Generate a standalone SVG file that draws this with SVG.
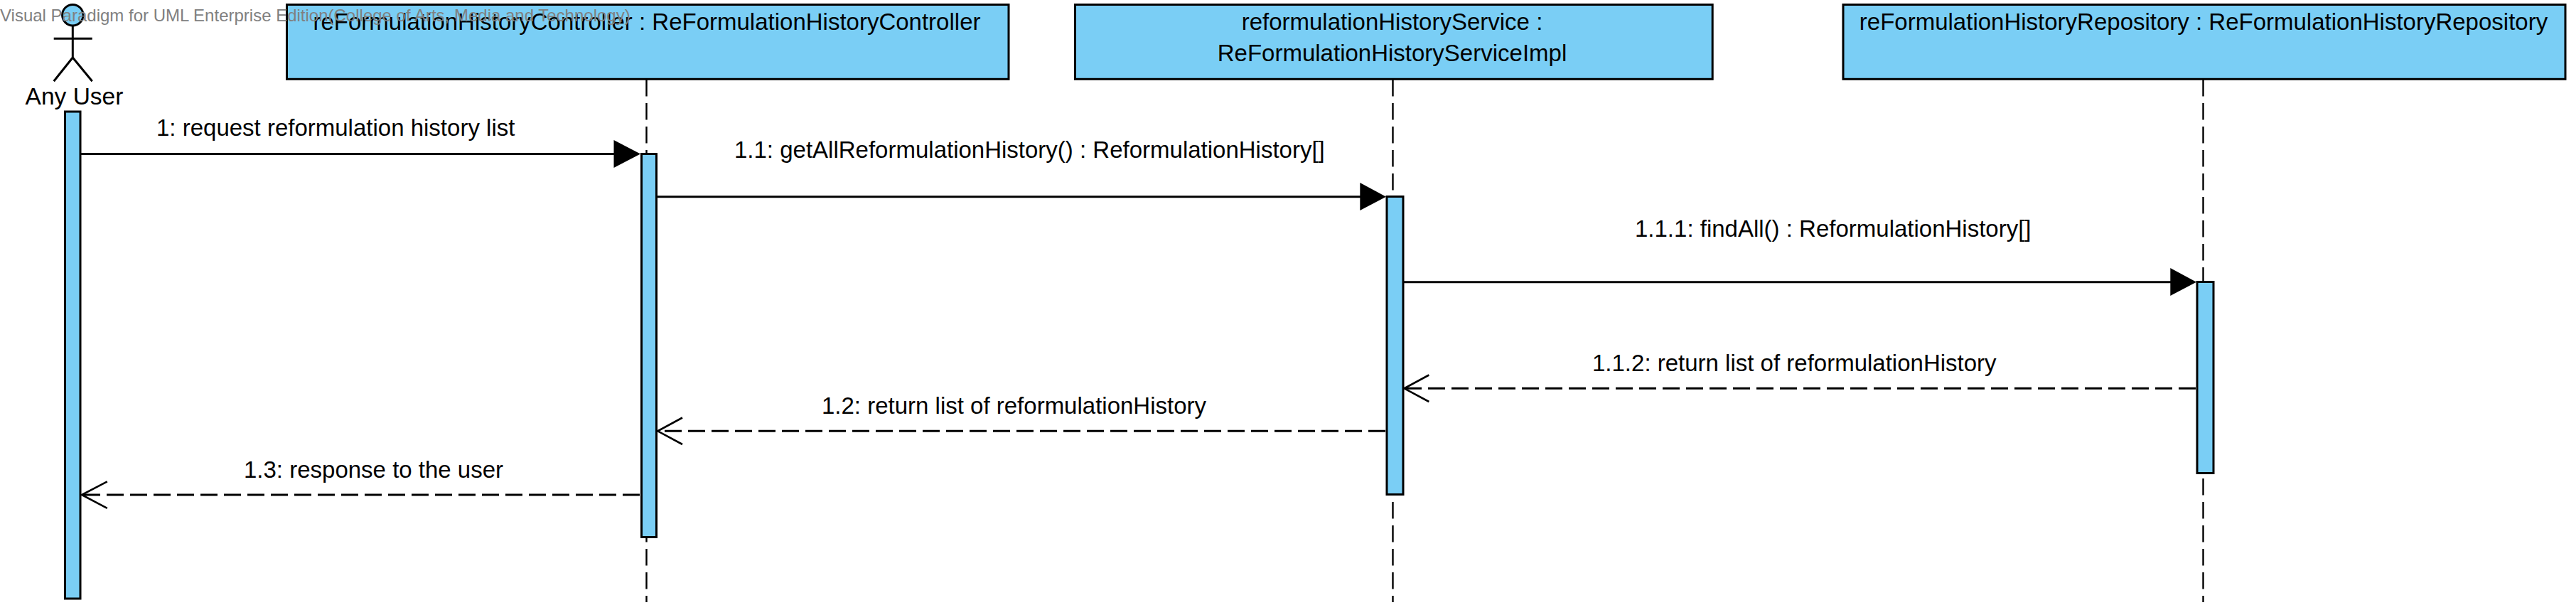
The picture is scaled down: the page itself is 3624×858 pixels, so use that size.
<svg xmlns="http://www.w3.org/2000/svg" width="3624" height="858" viewBox="0 0 3624 858">
<style>
.fill{fill:#7acef5;stroke:#000;stroke-width:3}
.life{stroke:#000;stroke-width:2.4;stroke-dasharray:23.5 9.5;fill:none}
.msg{stroke:#000;stroke-width:3;fill:none}
.ret{stroke:#000;stroke-width:3;fill:none;stroke-dasharray:24 9}
.open{stroke:#000;stroke-width:2.6;fill:none}
.tip{fill:#000;stroke:none}
text{font-family:"Liberation Sans",Arial,sans-serif;font-size:33px;fill:#000}
.c{text-anchor:middle}
.wm{font-size:24px;fill:#808080}
</style>
<rect width="3624" height="858" fill="#fff"/>
<g id="lifelines">
<path class="life" d="M909.500 112V847"/>
<path class="life" d="M1959.500 112V847"/>
<path class="life" d="M3099.500 112V847"/>
</g>
<g id="actor-any-user">
<circle class="fill" cx="102.300" cy="21.200" r="14.700"/>
<path class="msg" d="M102.300 36V81M75.700 54.300H129.700M75.700 114.300L102.300 81L129.700 114.300"/>
<text class="c" x="104.500" y="146.500" style="font-size:33.500px">Any User</text>
<rect class="fill" x="91.500" y="157" width="21.500" height="685"/>
</g>
<g id="controller">
<rect class="fill" x="403.500" y="6.500" width="1015.500" height="104.800"/>
<text class="c" x="910" y="42">reFormulationHistoryController : ReFormulationHistoryController</text>
<rect class="fill" x="902.500" y="216.500" width="21" height="539"/>
</g>
<g id="service">
<rect class="fill" x="1512.500" y="6.500" width="896.700" height="104.800"/>
<text class="c" x="1958.500" y="42">reformulationHistoryService :</text>
<text class="c" x="1958.500" y="86">ReFormulationHistoryServiceImpl</text>
<rect class="fill" x="1951" y="276.500" width="23" height="419"/>
</g>
<g id="repository">
<rect class="fill" x="2593" y="6.500" width="1016" height="104.800"/>
<text class="c" x="3100" y="42">reFormulationHistoryRepository : ReFormulationHistoryRepository</text>
<rect class="fill" x="3091" y="396.500" width="23" height="269"/>
</g>
<g id="connectors">
<path class="msg" d="M114 216.500H866"/><path class="tip" d="M863.500 197L901 216.500L863.500 236Z"/>
<path class="msg" d="M924 276.700H1915"/><path class="tip" d="M1913.300 257L1950 276.700L1913.300 296Z"/>
<path class="msg" d="M1975 396.700H3055"/><path class="tip" d="M3053.300 377L3090 396.700L3053.300 416Z"/>
<path class="ret" d="M3089 546.300H1976"/><path class="open" d="M2010.300 527.500L1975.500 546.300L2010.300 565"/>
<path class="ret" d="M1949 606.300H926"/><path class="open" d="M960 587.500L925.300 606.300L960 625"/>
<path class="ret" d="M900 696H115"/><path class="open" d="M150.800 677.300L115 696L150.800 714.800"/>
</g>
<g id="labels">
<text x="220" y="191">1: request reformulation history list</text>
<text x="1033" y="222">1.1: getAllReformulationHistory() : ReformulationHistory[]</text>
<text x="2300" y="333">1.1.1: findAll() : ReformulationHistory[]</text>
<text x="2240" y="522">1.1.2: return list of reformulationHistory</text>
<text x="1156" y="582">1.2: return list of reformulationHistory</text>
<text x="343" y="672">1.3: response to the user</text>
</g>
<text class="wm" x="0" y="30">Visual Paradigm for UML Enterprise Edition(College of Arts, Media and Technology)</text>
</svg>
